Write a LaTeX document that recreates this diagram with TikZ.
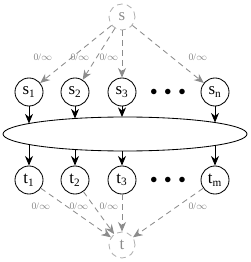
\documentclass[tikz,border=0pt]{standalone}
\usepackage{fontspec}
\setmainfont{Liberation Serif}
\usetikzlibrary{arrows.meta,shapes.geometric}
\definecolor{cutgray}{HTML}{8C8C8C}

\tikzset{
  vert/.style={circle,draw,semithick,minimum size=0.7cm,inner sep=0pt,font=\fontsize{12}{12}\selectfont},
  term/.style={vert,draw=cutgray!70,dash pattern=on 4pt off 3pt,text=cutgray,minimum size=0.65cm},
  capedge/.style={draw=cutgray,semithick,dash pattern=on 4pt off 3pt,-{Stealth[length=2.4mm,width=2mm]}},
  caplabel/.style={font=\fontsize{7}{7}\selectfont,text=cutgray},
  flow/.style={draw,semithick,-{Stealth[length=2.4mm,width=2mm]}},
  dots/.style={font=\normalsize}
}

\begin{document}
\begin{tikzpicture}[x=0.025cm,y=-0.025cm]
        \useasboundingbox (0,0) rectangle (250,262);
        % source and sink
        \node[term] (s) at (122,17) {s};
        \node[term] (t) at (122,245) {t};
        % left side
        \node[vert] (s1) at (29,92) {s\textsubscript{1}};
        \node[vert] (s2) at (75,92) {s\textsubscript{2}};
        \node[vert] (s3) at (122,92) {s\textsubscript{3}};
        \node[dots] (sdots) at (168,92) {$\bullet\;\bullet\;\bullet$};
        \node[vert] (sn) at (215,92) {s\textsubscript{n}};
        % right side
        \node[vert] (t1) at (29,180) {t\textsubscript{1}};
        \node[vert] (t2) at (75,180) {t\textsubscript{2}};
        \node[vert] (t3) at (122,180) {t\textsubscript{3}};
        \node[dots] (tdots) at (168,180) {$\bullet\;\bullet\;\bullet$};
        \node[vert] (tm) at (215,180) {t\textsubscript{m}};
        % the network in between
        \draw[semithick] (125,134) ellipse [x radius=122,y radius=17];
        \coordinate (in1) at (29,123.5);
        \coordinate (in2) at (75,118.5);
        \coordinate (in3) at (122,117);
        \coordinate (inn) at (215,122.5);
        \coordinate (out1) at (29,144.5);
        \coordinate (out2) at (75,149.5);
        \coordinate (out3) at (122,151);
        \coordinate (outm) at (215,145.5);
        \draw[flow] (s1) -- (in1);
        \draw[flow] (s2) -- (in2);
        \draw[flow] (s3) -- (in3);
        \draw[flow] (sn) -- (inn);
        \draw[flow] (out1) -- (t1);
        \draw[flow] (out2) -- (t2);
        \draw[flow] (out3) -- (t3);
        \draw[flow] (outm) -- (tm);
        % capacities
        \draw[capedge] (s) -- (s1);
        \draw[capedge] (s) -- (s2);
        \draw[capedge] (s) -- (s3);
        \draw[capedge] (s) -- (sn);
        \draw[capedge] (t1) -- (t);
        \draw[capedge] (t2) -- (t);
        \draw[capedge] (t3) -- (t);
        \draw[capedge] (tm) -- (t);
        \node[caplabel] (c1) at (43,57) {0/$\infty$};
        \node[caplabel] (c2) at (80,57) {0/$\infty$};
        \node[caplabel] (c3) at (109,57) {0/$\infty$};
        \node[caplabel] (cn) at (198,57) {0/$\infty$};
        \node[caplabel] (d1) at (41,206) {0/$\infty$};
        \node[caplabel] (d2) at (79,206) {0/$\infty$};
        \node[caplabel] (d3) at (109,206) {0/$\infty$};
        \node[caplabel] (dm) at (198,206) {0/$\infty$};
      \end{tikzpicture}
\end{document}
